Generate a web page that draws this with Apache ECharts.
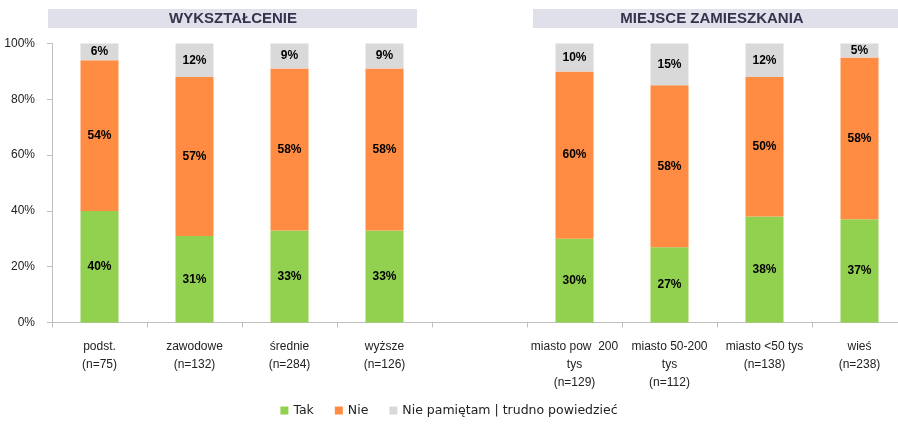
<!DOCTYPE html>
<html><head><meta charset="utf-8">
<script src="https://cdn.jsdelivr.net/npm/echarts@6/dist/echarts.min.js"></script>
<style>html,body{margin:0;padding:0;background:#fff}#c{width:898px;height:429px}</style>
</head><body><div id="c"></div>
<script>
const categories = ['podst.\n(n=75)','zawodowe\n(n=132)','średnie\n(n=284)','wyższe\n(n=126)','','miasto pow  200\ntys\n(n=129)','miasto 50-200\ntys\n(n=112)','miasto <50 tys\n(n=138)','wieś\n(n=238)'];
const tak = [40,31,33,33,null,30,27,38,37];
const nie = [54,57,58,58,null,60,58,50,58];
const niePam = [6,12,9,9,null,10,15,12,5];
const yTicks = [0,20,40,60,80,100];
const groupTitles = ['WYKSZTAŁCENIE','MIEJSCE ZAMIESZKANIA'];
const seriesNames = ['Tak','Nie','Nie pamiętam | trudno powiedzieć'];
const colors = ['#92D050','#FF8C42','#D9D9D9'];

const font = 'Liberation Sans, Arial, sans-serif';
const chart = echarts.init(document.getElementById('c'));
const lbl = {show:true, position:'inside', formatter: p => p.value==null?'':p.value+'%', color:'#000', fontWeight:'bold', fontSize:12, fontFamily:font};
chart.setOption({
  animation:false,
  color: colors,
  grid:{left:52, width:855, top:43.5, height:279, containLabel:false, outerBoundsMode:'none'},
  legend:{bottom:7, left:'center', itemWidth:8, itemHeight:8, itemGap:21,
    icon:'rect', textStyle:{fontSize:12.5, fontFamily:'DejaVu Sans, sans-serif', color:'#222'}, data:seriesNames},
  xAxis:{type:'category', data:categories,
    axisLine:{lineStyle:{color:'#BFBFBF'}},
    axisTick:{show:true, length:5, lineStyle:{color:'#BFBFBF'}},
    axisLabel:{interval:0, fontSize:12, fontFamily:font, color:'#222', lineHeight:18, margin:15}},
  yAxis:{type:'value', min:0, max:100, interval:20,
    axisLine:{show:true, lineStyle:{color:'#BFBFBF'}},
    axisTick:{show:true, length:5, lineStyle:{color:'#BFBFBF'}},
    splitLine:{show:false},
    axisLabel:{formatter: v => yTicks.includes(v)? v+'%' : '', fontSize:12, fontFamily:font, color:'#222', margin:17}},
  series:[
    {name:seriesNames[0], type:'bar', stack:'s', data:tak, barWidth:38, label:lbl},
    {name:seriesNames[1], type:'bar', stack:'s', data:nie, barWidth:38, label:lbl},
    {name:seriesNames[2], type:'bar', stack:'s', data:niePam, barWidth:38, label:lbl}
  ],
  graphic:[
    {type:'rect', shape:{x:48, y:9, width:369, height:19}, style:{fill:'#E0E0EA'}},
    {type:'text', x:233, y:19, style:{text:groupTitles[0], fill:'#33334D', font:'bold 15px '+font, textAlign:'center', textVerticalAlign:'middle'}},
    {type:'rect', shape:{x:533, y:9, width:365, height:19}, style:{fill:'#E0E0EA'}},
    {type:'text', x:712, y:19, style:{text:groupTitles[1], fill:'#33334D', font:'bold 15px '+font, textAlign:'center', textVerticalAlign:'middle'}}
  ]
});
</script></body></html>
